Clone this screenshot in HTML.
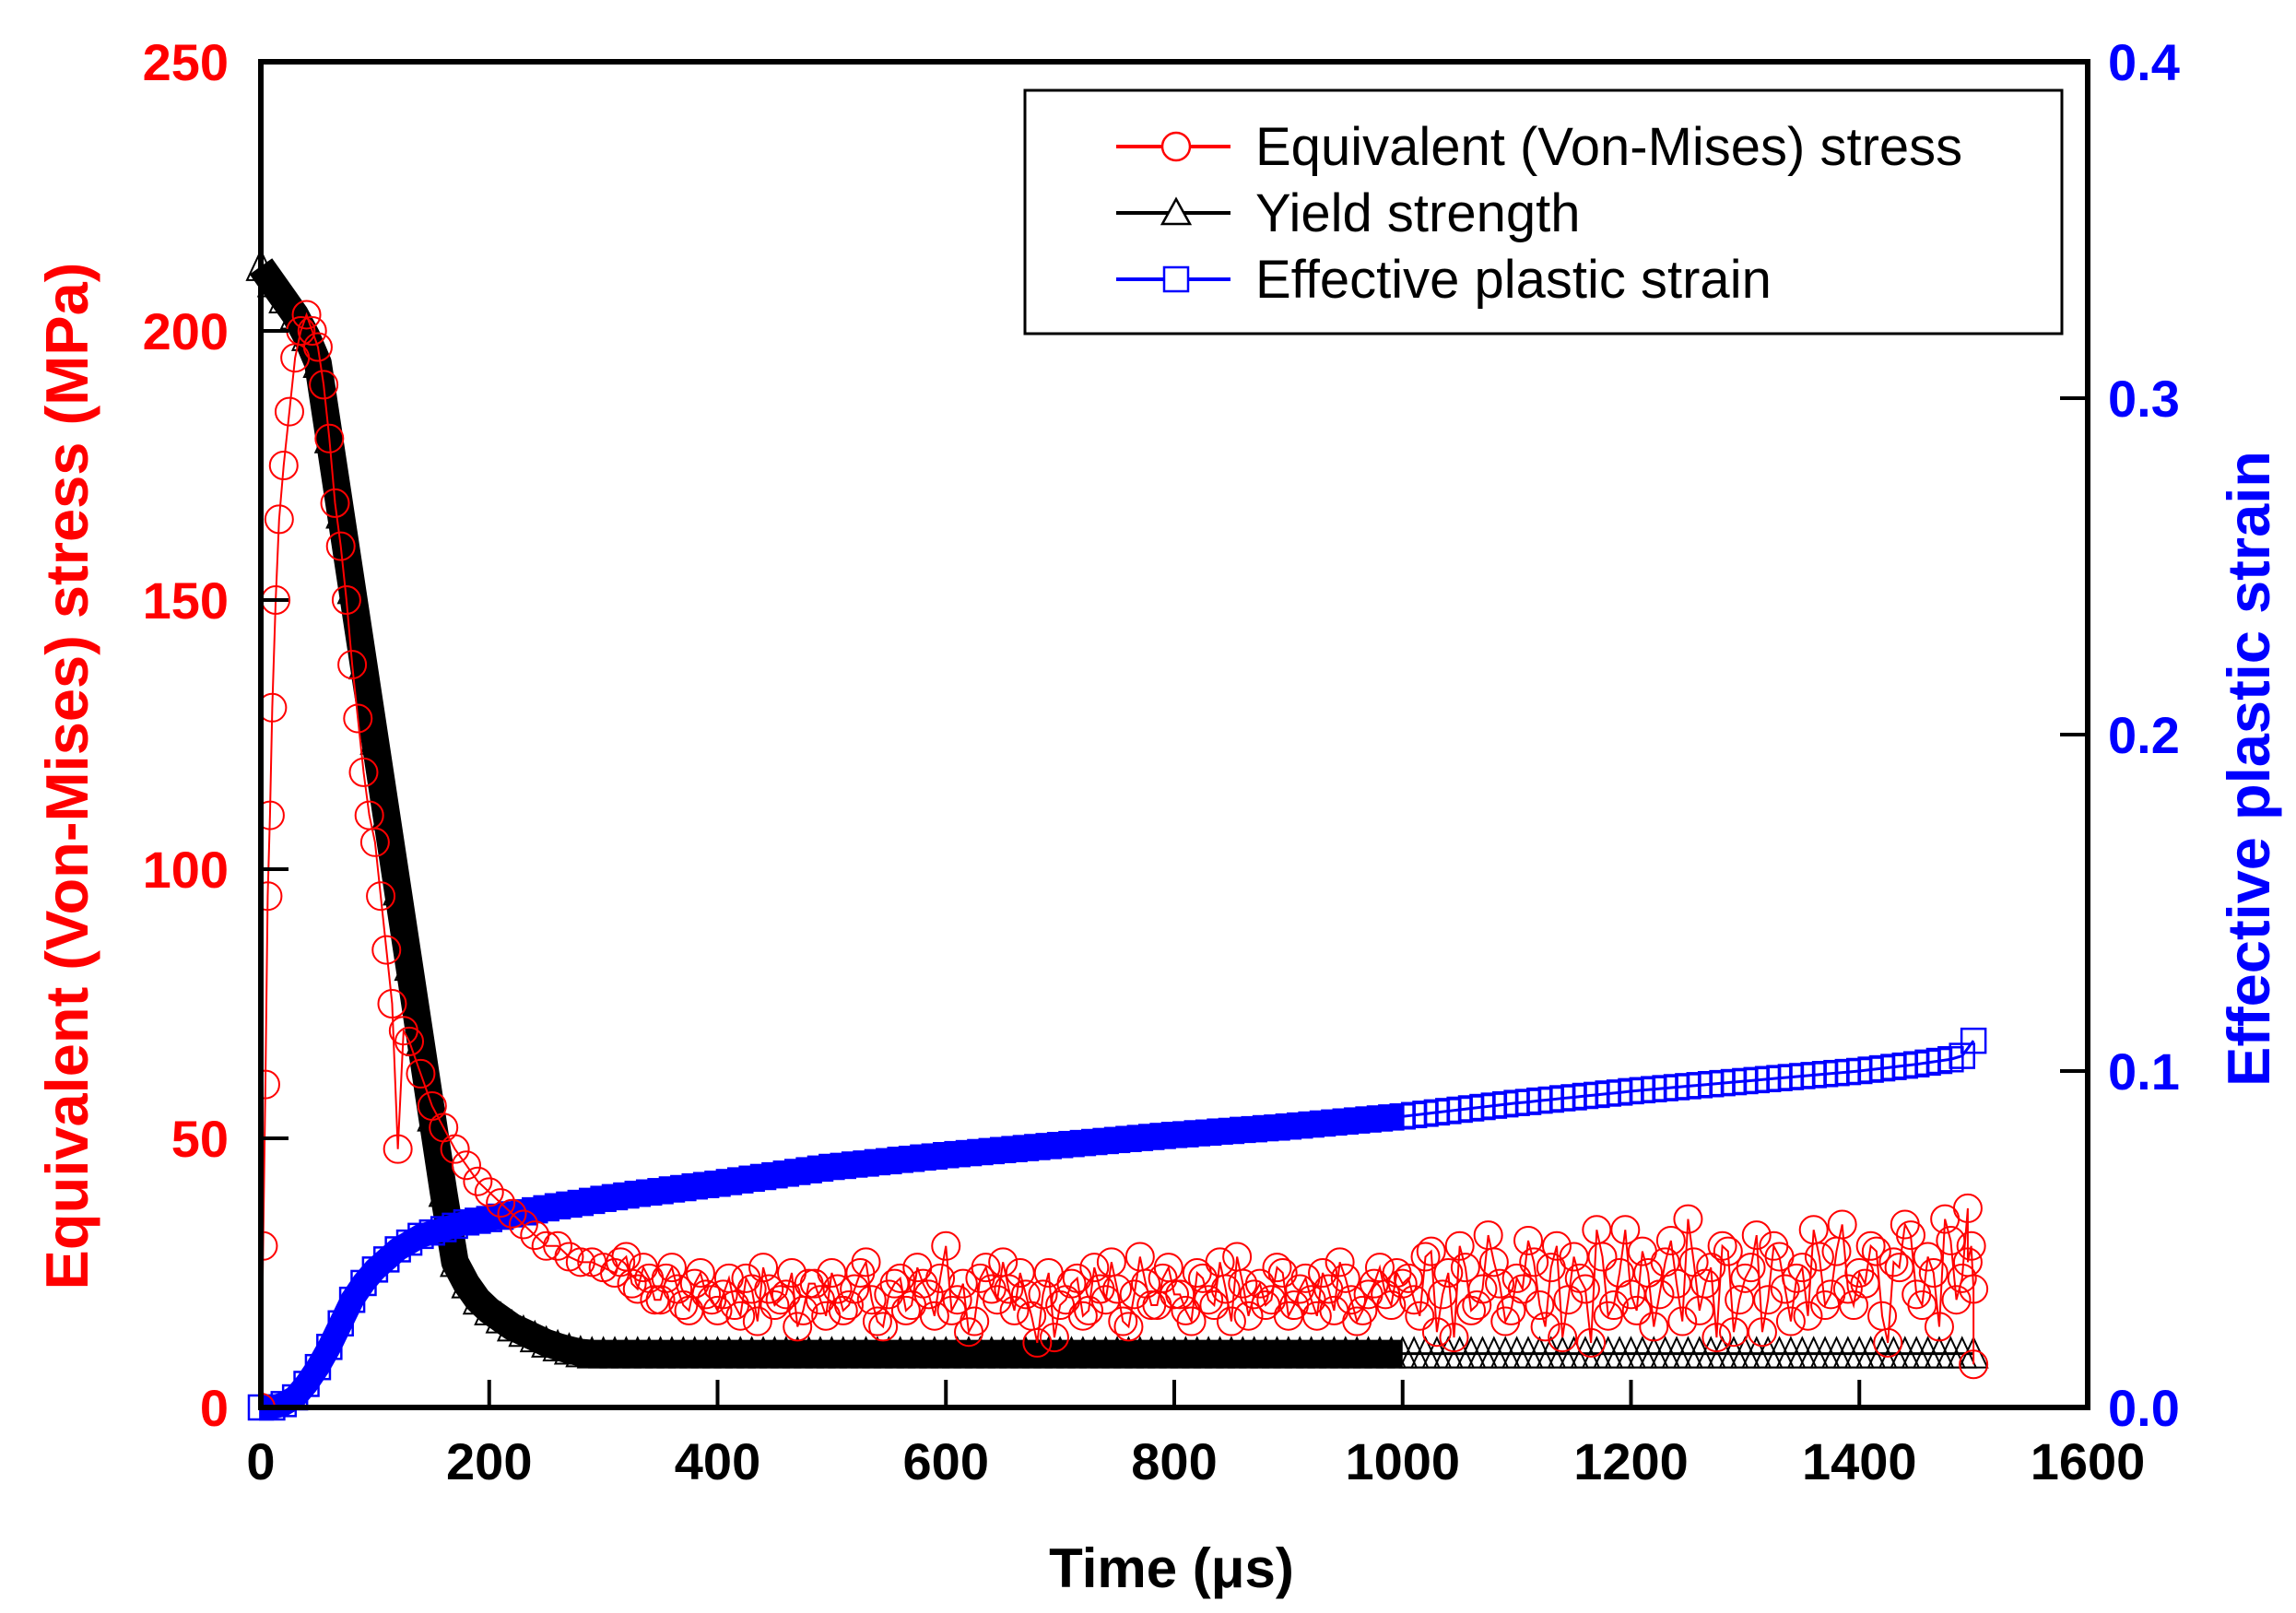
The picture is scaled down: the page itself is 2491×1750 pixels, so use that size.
<!DOCTYPE html>
<html><head><meta charset="utf-8"><style>
html,body{margin:0;padding:0;background:#fff;}
svg{display:block;font-family:"Liberation Sans",Arial,sans-serif;}
</style></head><body>
<svg id="chart" width="2491" height="1750" viewBox="0 0 2491 1750">
<g id="marks"></g>
<g id="axes"></g>
</svg>
<script>
const xTicks=[0,200,400,600,800,1000,1200,1400,1600];
const yLeftTicks=[0,50,100,150,200,250];
const yRightTicks=["0.0","0.1","0.2","0.3","0.4"];
const gridTime=[0,10,20,30,40,50,60,70,80,90,100,110,120,130,140,150,160,170,180,190,200,210,220,230,240,250,260,270,280,290,300,310,320,330,340,350,360,370,380,390,400,410,420,430,440,450,460,470,480,490,500,510,520,530,540,550,560,570,580,590,600,610,620,630,640,650,660,670,680,690,700,710,720,730,740,750,760,770,780,790,800,810,820,830,840,850,860,870,880,890,900,910,920,930,940,950,960,970,980,990,1000,1010,1020,1030,1040,1050,1060,1070,1080,1090,1100,1110,1120,1130,1140,1150,1160,1170,1180,1190,1200,1210,1220,1230,1240,1250,1260,1270,1280,1290,1300,1310,1320,1330,1340,1350,1360,1370,1380,1390,1400,1410,1420,1430,1440,1450,1460,1470,1480,1490,1500];
const yieldStrength=[212,209,206,203,199,194,180,166,152,138,124,110,96,82,68,54,40,27,23,20,18,16.5,15,14,13,12,11.3,10.7,10.2,10,
10,10,10,10,10,10,10,10,10,10,10,10,10,10,10,10,10,10,10,10,10,10,10,10,10,10,10,10,10,10,10,10,10,10,10,10,10,10,10,10,10,10,10,10,10,10,10,10,10,10,
10,10,10,10,10,10,10,10,10,10,10,10,10,10,10,10,10,10,10,10,10,10,10,10,10,10,10,10,10,10,10,10,10,10,10,10,10,10,10,10,10,10,10,10,10,10,10,10,10,10,
10,10,10,10,10,10,10,10,10,10,10,10,10,10,10,10,10,10,10,10,10,10,10,10,10,10,10,10,10,10,10];
const plasticStrain=[0,0,0.001,0.003,0.007,0.012,0.018,0.025,0.032,0.037,
0.041,0.044,0.047,0.049,0.051,0.052,0.053,0.054,0.055,0.0555,
0.056,0.0567,0.0574,0.058,0.0586,0.0592,0.0598,0.0603,0.0608,0.0614,
0.062,0.0625,0.063,0.0635,0.0639,0.0643,0.0648,0.0652,0.0657,0.0661,
0.0665,0.067,0.0675,0.068,0.0685,0.069,0.0695,0.07,0.0705,0.071,
0.0715,0.0718,0.0722,0.0725,0.0729,0.0732,0.0736,0.0739,0.0743,0.0746,
0.075,0.0753,0.0756,0.0759,0.0762,0.0765,0.0768,0.0771,0.0774,0.0777,
0.078,0.0783,0.0786,0.0789,0.0792,0.0795,0.0798,0.0801,0.0804,0.0807,
0.081,0.0812,0.0815,0.0817,0.082,0.0822,0.0825,0.0827,0.083,0.0832,
0.0835,0.0838,0.0841,0.0844,0.0847,0.085,0.0853,0.0856,0.0859,0.0862,
0.0865,0.0869,0.0873,0.0877,0.0881,0.0885,0.0889,0.0893,0.0897,0.0901,
0.0905,0.0908,0.0912,0.0915,0.0919,0.0922,0.0926,0.0929,0.0933,0.0936,
0.094,0.0943,0.0946,0.0949,0.0952,0.0955,0.0958,0.0961,0.0964,0.0967,
0.097,0.0973,0.0976,0.0979,0.0982,0.0985,0.0988,0.0991,0.0994,0.0997,
0.1,0.1004,0.1008,0.1012,0.1016,0.102,0.1025,0.103,0.1035,0.1045,0.109];
const stressTime=[0,2,4,6,8,10,13,16,20,25,30,35,40,45,50,55,60,65,70,75,80,85,90,95,100,105,110,115,120,125,130,140,150,160,170,180,190,200,210,220,230,240,250,260,270,280,290,300,
310,320,330,340,350,360,370,380,390,400,410,420,430,440,450,460,470,480,490,500,510,520,530,540,550,560,570,580,590,600,610,620,630,640,650,660,670,680,690,700,
710,720,730,740,750,760,770,780,790,800,810,820,830,840,850,860,870,880,890,900,910,920,930,940,950,960,970,980,990,1000,
1010,1020,1030,1040,1050,1060,1070,1080,1090,1100,1110,1120,1130,1140,1150,1160,1170,1180,1190,1200,1210,1220,1230,1240,1250,1260,1270,1280,1290,1300,
1310,1320,1330,1340,1350,1360,1370,1380,1390,1400,1410,1420,1430,1440,1450,1460,1470,1480,1490,1495,1498,1500,1500];
const vonMisesStress=[0,30,60,95,110,130,150,165,175,185,195,200,203,200,197,190,180,168,160,150,138,128,118,110,105,95,85,75,48,70,68,62,56,52,48,45,42,40,38,36,34,32,30,30,28,27,27,26,
25,28,22,24,20,26,19,23,21,18,24,17,22,26,19,21,15,23,20,25,18,22,27,16,21,24,19,23,17,30,20,14,24,22,27,18,21,12,25,19,
23,17,26,20,22,15,28,19,24,21,18,25,20,27,16,23,21,19,26,17,22,20,25,18,24,16,21,26,19,23,
20,28,14,25,30,18,22,27,16,24,31,19,26,13,28,22,33,17,25,21,29,15,27,23,35,18,26,30,14,24,
32,20,28,16,26,33,19,29,22,25,30,17,27,34,21,28,15,31,24,37,30,22,8];
const stressTimeB=[315,325,335,345,355,365,375,385,395,405,415,425,435,445,455,465,475,485,495,505,515,525,535,545,555,565,575,585,595,605,615,625,635,645,655,665,675,685,695,
705,715,725,735,745,755,765,775,785,795,805,815,825,835,845,855,865,875,885,895,905,915,925,935,945,955,965,975,985,995,
1005,1015,1025,1035,1045,1055,1065,1075,1085,1095,1105,1115,1125,1135,1145,1155,1165,1175,1185,1195,1205,1215,1225,1235,1245,1255,1265,1275,1285,1295,
1305,1315,1325,1335,1345,1355,1365,1375,1385,1395,1405,1415,1425,1435,1445,1455,1465,1475,1485,1495];
const vonMisesStressB=[27,23,26,20,24,22,18,25,20,21,19,24,16,22,20,25,18,23,17,22,19,25,20,15,23,18,26,21,24,18,23,16,26,20,22,25,17,21,13,
20,24,18,22,27,16,21,23,19,26,21,16,24,19,22,28,17,23,20,25,19,24,17,22,27,20,18,23,21,25,
24,17,29,21,13,26,19,32,23,18,22,27,15,30,20,24,12,28,19,33,18,25,21,31,16,27,23,13,29,20,
26,14,30,22,24,17,28,21,34,19,23,29,12,26,32,19,25,35,20,27];

const L=283,R=2265,T=67,B=1527;
const xs=t=>L+(t/1600)*(R-L);
const yl=v=>B-(v/250)*(B-T);
const yr=v=>B-(v/0.4)*(B-T);
const NS="http://www.w3.org/2000/svg";
const marks=document.getElementById('marks');
const axes=document.getElementById('axes');
function mk(tag,attrs,parent){const e=document.createElementNS(NS,tag);for(const k in attrs)e.setAttribute(k,attrs[k]);parent.appendChild(e);return e;}

const defs=mk('defs',{},marks);
const cp=mk('clipPath',{id:'clip'},defs);
mk('rect',{x:L,y:T-20,width:R-L,height:B-T+20},cp);

// yield strength
const gY=mk('g',{},marks);


let ptsY=[];let ptsYsolid=[];
gridTime.forEach((t,i)=>{ptsY.push(xs(t)+','+yl(yieldStrength[i]));if(t<=1000)ptsYsolid.push(xs(t)+','+yl(yieldStrength[i]));});
mk('polyline',{points:ptsYsolid.join(' '),fill:'none',stroke:'#000','stroke-width':30,'stroke-linejoin':'round'},gY);
mk('polyline',{points:ptsY.join(' '),fill:'none',stroke:'#000','stroke-width':3},gY);
gridTime.forEach((t,i)=>{const x=xs(t),y=yl(yieldStrength[i]);
 const p=mk('polygon',{points:`${x},${y-17} ${x-15},${y+15} ${x+15},${y+15}`,fill:'none',stroke:'#000','stroke-width':2},gY);
 
 
});

// strain
const gS=mk('g',{},marks);


let ptsS=[],ptsSsolid=[];
gridTime.forEach((t,i)=>{ptsS.push(xs(t)+','+yr(plasticStrain[i]));if(t<=1000)ptsSsolid.push(xs(t)+','+yr(plasticStrain[i]));});
mk('polyline',{points:ptsSsolid.join(' '),fill:'none',stroke:'#0000ff','stroke-width':26,'stroke-linejoin':'round'},gS);
mk('polyline',{points:ptsS.join(' '),fill:'none',stroke:'#0000ff','stroke-width':3},gS);
gridTime.forEach((t,i)=>{const x=xs(t),y=yr(plasticStrain[i]);
 const r=mk('rect',{x:x-13,y:y-13,width:26,height:26,fill:'none',stroke:'#0000ff','stroke-width':2.5},gS);
 
 
});

// stress (merge both sample sets by time)
const merged=stressTime.map((t,i)=>[t,vonMisesStress[i]]).concat(stressTimeB.map((t,i)=>[t,vonMisesStressB[i]]));
merged.sort((a,b)=>a[0]-b[0]);
const gV=mk('g',{'clip-path':'url(#clip)'},marks);


mk('polyline',{points:merged.map(p=>xs(p[0])+','+yl(p[1])).join(' '),fill:'none',stroke:'#ff0000','stroke-width':2},gV);
merged.forEach(p=>{
 const c=mk('circle',{cx:xs(p[0]),cy:yl(p[1]),r:15,fill:'none',stroke:'#ff0000','stroke-width':2},gV);
 
 
});

// frame and ticks
const fr=mk('rect',{x:L,y:T,width:R-L,height:B-T,fill:'none',stroke:'#000','stroke-width':6},axes);


xTicks.forEach(v=>{const x=xs(v);
 mk('line',{x1:x,y1:B,x2:x,y2:B-30,stroke:'#000','stroke-width':4},axes);
 const tx=mk('text',{x:x,y:1605,'text-anchor':'middle','font-size':56,'font-weight':'bold',fill:'#000'},axes);
 tx.textContent=v;
 
 
});
yLeftTicks.forEach(v=>{const y=yl(v);
 mk('line',{x1:L,y1:y,x2:L+30,y2:y,stroke:'#000','stroke-width':4},axes);
 const tx=mk('text',{x:248,y:y+20,'text-anchor':'end','font-size':56,'font-weight':'bold',fill:'#ff0000'},axes);
 tx.textContent=v;
 
 
});
yRightTicks.forEach(s=>{const y=yr(parseFloat(s));
 mk('line',{x1:R,y1:y,x2:R-30,y2:y,stroke:'#000','stroke-width':4},axes);
 const tx=mk('text',{x:2287,y:y+20,'text-anchor':'start','font-size':56,'font-weight':'bold',fill:'#0000ff'},axes);
 tx.textContent=s;
 
 
});

const svg=document.getElementById('chart');
const xt=mk('text',{x:1271,y:1722,'text-anchor':'middle','font-size':60,'font-weight':'bold',fill:'#000'},svg);
xt.textContent='Time (\u03bcs)';


const yt=mk('text',{x:0,y:0,transform:'translate(95,842) rotate(-90)','text-anchor':'middle','font-size':65,'font-weight':'bold',fill:'#ff0000'},svg);
yt.textContent='Equivalent (Von-Mises) stress (MPa)';


const rt=mk('text',{x:0,y:0,transform:'translate(2462,834) rotate(-90)','text-anchor':'middle','font-size':65,'font-weight':'bold',fill:'#0000ff'},svg);
rt.textContent='Effective plastic strain';



const lg=mk('g',{},svg);


mk('rect',{x:1112,y:98,width:1125,height:264,fill:'#fff',stroke:'#000','stroke-width':3},lg);
const entries=[['Equivalent (Von-Mises) stress','#ff0000','circle'],['Yield strength','#000','tri'],['Effective plastic strain','#0000ff','sq']];
entries.forEach((e,i)=>{const y=159+i*72;
 const g=mk('g',{},lg);
 
 
 mk('line',{x1:1211,y1:y,x2:1335,y2:y,stroke:e[1],'stroke-width':4},g);
 if(e[2]==='circle')mk('circle',{cx:1276,cy:y,r:15,fill:'#fff',stroke:e[1],'stroke-width':2.5},g);
 if(e[2]==='tri')mk('polygon',{points:`1276,${y-15} 1261,${y+12} 1291,${y+12}`,fill:'#fff',stroke:e[1],'stroke-width':2.5},g);
 if(e[2]==='sq')mk('rect',{x:1263,y:y-13,width:26,height:26,fill:'#fff',stroke:e[1],'stroke-width':2.5},g);
 const t=mk('text',{x:1362,y:y+20,'font-size':58,fill:'#000'},g);
 t.textContent=e[0];
});
</script>
</body></html>
